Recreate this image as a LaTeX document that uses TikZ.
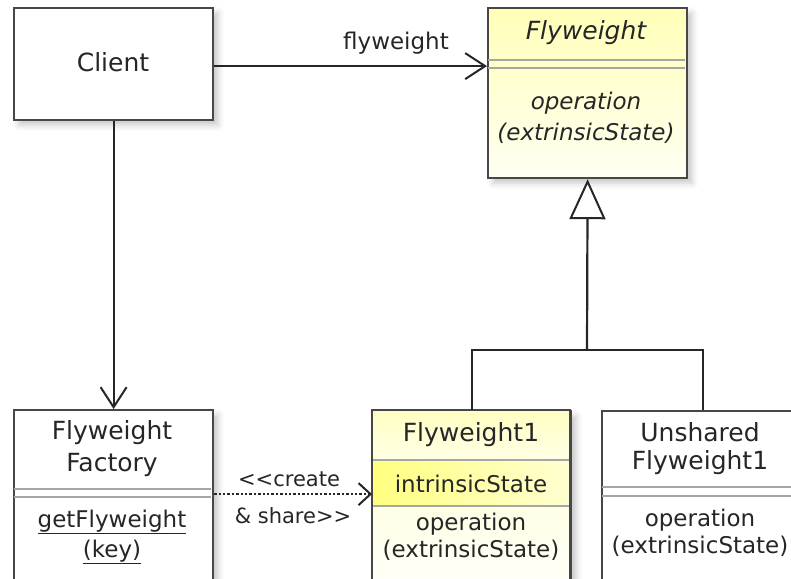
\documentclass[tikz,border=0pt]{standalone}
\usepackage{fontspec}
\setmainfont{DejaVu Sans}
\usetikzlibrary{arrows.meta,shadows.blur}
\begin{document}
\begin{tikzpicture}[x=1pt,y=-1pt,
  box/.style={draw=black!72, line width=2.2pt, inner sep=0pt, anchor=north west},
  shadowed/.style={blur shadow={shadow xshift=5pt, shadow yshift=-5pt, shadow blur radius=6pt, shadow opacity=22}},
  nm/.style={font=\fontsize{25}{30}\selectfont, text=black!85, inner sep=0pt},
  op/.style={font=\fontsize{23}{28}\selectfont, text=black!85, inner sep=0pt},
  sep/.style={draw=black!35, line width=1.8pt},
  conn/.style={draw=black!85, line width=2.2pt},
  barb/.style={-{Straight Barb[length=20pt,width=26pt,line width=2pt]}},
  tri/.style={-{Triangle[length=40pt,width=36pt,line width=2pt,fill=white]}}
]
\useasboundingbox (0,0) rectangle (791,578);
\clip (0,0) rectangle (791,578);

% Client
\node[box, shadowed, fill=white, minimum width=199pt, minimum height=112pt] (client) at (13,7) {};
\node[nm] (clientT) at (113,62) {Client};

% Flyweight (abstract)
\node[box, shadowed, top color=yellow!28, bottom color=yellow!5, minimum width=199pt, minimum height=170pt] (fw) at (487,7) {};
\draw[sep] (488,60) -- (685,60);
\draw[sep] (488,68) -- (685,68);
\node[nm, font=\fontsize{25}{30}\selectfont\itshape] (fwT) at (586,33) {Flyweight};
\node[op, font=\fontsize{23}{28}\selectfont\itshape] (fwO1) at (586,103) {operation};
\node[op, font=\fontsize{23}{28}\selectfont\itshape] (fwO2) at (586,133) {(extrinsicState)};

% Flyweight Factory
\node[box, shadowed, fill=white, minimum width=199pt, minimum height=200pt] (fac) at (13,409) {};
\draw[sep] (14,489) -- (211,489);
\draw[sep] (14,497) -- (211,497);
\node[nm] (facT1) at (112,433) {Flyweight};
\node[nm] (facT2) at (112,465) {Factory};
\node[op] (facO1) at (112,522) {\underline{getFlyweight}};
\node[op] (facO2) at (112,552) {\underline{(key)}};

% Flyweight1
\node[box, shadowed, fill=white, minimum width=198pt, minimum height=200pt] (f1) at (372,410) {};
\fill[top color=yellow!24, bottom color=yellow!10] (373,411) rectangle (569,460);
\fill[left color=yellow!50, right color=yellow!18] (373,460) rectangle (569,506);
\fill[top color=yellow!10, bottom color=yellow!3] (373,506) rectangle (569,578);
\draw[sep] (373,460) -- (569,460);
\draw[sep] (373,506) -- (569,506);
\draw[draw=black!72, line width=2.2pt] (372,610) -- (372,410) -- (570,410) -- (570,610);
\node[nm] (f1T) at (471,435) {Flyweight1};
\node[op] (f1A) at (471,484) {intrinsicState};
\node[op] (f1O1) at (471,524) {operation};
\node[op] (f1O2) at (471,550) {(extrinsicState)};

% Unshared Flyweight1
\node[box, shadowed, fill=white, minimum width=202pt, minimum height=200pt] (un) at (601,410) {};
\draw[sep] (602,487) -- (802,487);
\draw[sep] (602,496) -- (802,496);
\node[nm] (unT1) at (700,432) {Unshared};
\node[nm] (unT2) at (700,463) {Flyweight1};
\node[op] (unO1) at (700,520) {operation};
\node[op] (unO2) at (700,546) {(extrinsicState)};

% connectors
\draw[conn, barb] ([yshift=-2pt]client.east) -- ([yshift=-2pt]fw.west |- client.east);
\node[op] (lblfw) at (396,43) {flyweight};

\draw[conn, barb] (client.south) -- (fac.north);

\coordinate (join) at (587,350);
\draw[conn] (f1.north) |- (join) -| (un.north);
\draw[conn, tri] (join) -- (fw.south);

\draw[conn, line width=2.4pt, dotted, -{Straight Barb[length=12pt,width=22pt,line width=2pt]}]
  ([yshift=16pt]fac.east) -- ([yshift=16pt]fac.east -| f1.west);
\node[op, font=\fontsize{21}{26}\selectfont] (lblc1) at (289,479) {<{}<create};
\node[op, font=\fontsize{21}{26}\selectfont] (lblc2) at (293,516) {\&{} share>{}>};
\end{tikzpicture}
\end{document}
